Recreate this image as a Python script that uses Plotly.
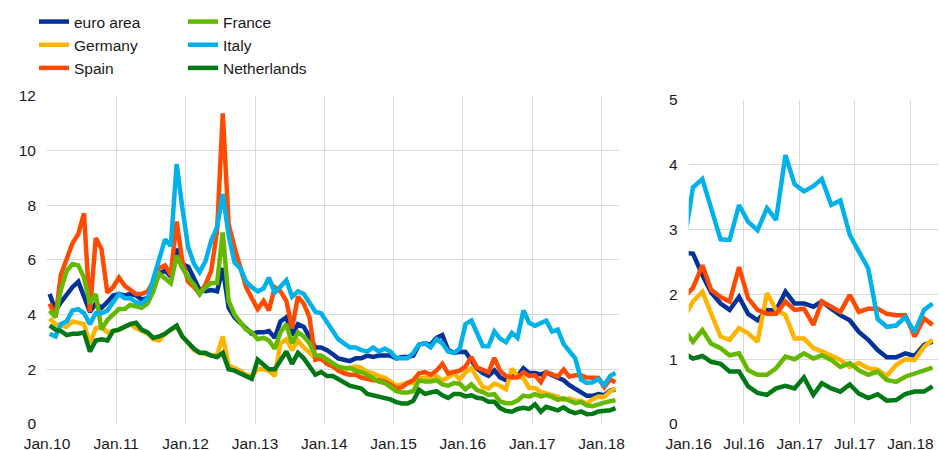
import pandas as pd
import plotly.graph_objects as go

# monthly observations, Jan 2010 - Mar 2018
months = pd.date_range('2010-01-01', '2018-03-01', freq='MS') + pd.Timedelta(days=14)

euro_area = [
    4.75, 4.15, 4.45, 4.75, 5.0, 5.2, 4.6, 4.1, 4.4, 4.25, 4.45, 4.7,
    4.75, 4.7, 4.75, 4.7, 4.55, 4.6, 5.0, 5.5, 5.6, 5.4, 6.4, 5.85,
    5.75, 5.35, 4.9, 4.85, 4.9, 4.85, 5.7, 4.25, 3.9, 3.7, 3.5, 3.3,
    3.35, 3.35, 3.4, 3.15, 3.75, 3.9, 3.25, 3.65, 3.55, 3.2, 2.8, 2.8,
    2.7, 2.55, 2.4, 2.35, 2.3, 2.4, 2.4, 2.5, 2.45, 2.5, 2.5, 2.5,
    2.4, 2.45, 2.45, 2.5, 2.9, 2.95, 2.9, 3.15, 3.25, 2.7, 2.6, 2.64,
    2.63, 2.3, 2.03, 1.86, 1.76, 1.96, 1.7, 1.6, 1.76, 1.75, 2.04, 1.86,
    1.86, 1.81, 1.89, 1.78, 1.68, 1.6, 1.42, 1.3, 1.14, 1.03, 1.03, 1.09,
    1.05, 1.22, 1.27,
]
germany = [
    3.85, 3.65, 3.6, 3.55, 3.75, 3.7, 3.65, 2.95, 3.5, 3.55, 3.35, 3.4,
    3.45, 3.55, 3.65, 3.5, 3.4, 3.3, 3.1, 3.05, 3.3, 3.45, 3.55, 3.2,
    2.95, 2.7, 2.6, 2.55, 2.5, 2.5, 3.2, 2.15, 2.05, 1.95, 1.8, 1.75,
    2.0, 2.0, 1.95, 1.75, 2.95, 3.1, 2.7, 3.05, 2.8, 2.6, 2.4, 2.4,
    2.2, 2.15, 2.05, 1.95, 2.05, 2.1, 2.05, 1.9, 1.85, 1.75, 1.7, 1.55,
    1.4, 1.45, 1.5, 1.5, 1.65, 1.7, 1.7, 1.75, 1.6, 1.7, 1.85, 1.63,
    1.89, 2.04, 1.7, 1.35, 1.3, 1.48, 1.4, 1.27, 2.02, 1.76, 1.68, 1.32,
    1.32, 1.17, 1.12, 1.06, 0.99, 0.88, 0.94, 0.86, 0.84, 0.74, 0.91, 1.0,
    0.99, 1.19, 1.3,
]
spain = [
    4.4, 3.9, 5.45, 6.1, 6.6, 6.95, 7.7, 4.1, 6.8, 6.4, 4.8, 5.0,
    5.35, 5.05, 4.9, 4.75, 4.75, 4.85, 5.2, 5.7, 5.8, 5.45, 7.4, 5.95,
    5.2, 5.0, 4.75, 5.1, 5.6, 7.05, 11.35, 7.3, 6.45, 5.7, 5.0, 4.6,
    4.2, 4.5, 4.15, 5.0, 4.85, 4.5, 3.5, 4.65, 4.4, 3.9, 2.35, 2.4,
    2.2, 2.1, 1.95, 1.85, 1.8, 1.8, 1.7, 1.65, 1.6, 1.6, 1.55, 1.45,
    1.3, 1.35, 1.5, 1.6, 1.85, 1.9, 1.8, 1.95, 2.2, 1.85, 1.9, 1.95,
    2.1, 2.45, 2.07, 1.96, 1.89, 2.42, 1.94, 1.76, 1.7, 1.7, 1.89, 1.76,
    1.78, 1.53, 1.89, 1.81, 1.73, 1.99, 1.73, 1.78, 1.78, 1.7, 1.68, 1.68,
    1.35, 1.63, 1.53,
]
france = [
    4.15, 3.9, 4.9, 5.6, 5.85, 5.8, 5.35, 4.4, 4.75, 3.45, 3.8, 4.0,
    4.2, 4.2, 4.35, 4.3, 4.25, 4.4, 4.85, 5.5, 5.3, 5.15, 6.15, 5.7,
    5.35, 5.1, 4.75, 5.0, 5.15, 5.15, 7.0, 4.5, 4.0, 3.75, 3.45, 3.35,
    3.1, 3.15, 3.05, 2.75, 3.35, 3.65, 2.95, 3.35, 3.2, 2.95, 2.5, 2.5,
    2.35, 2.2, 2.1, 2.05, 2.05, 1.95, 1.9, 1.8, 1.65, 1.55, 1.5, 1.35,
    1.2, 1.15, 1.15, 1.2, 1.6, 1.55, 1.55, 1.6, 1.45, 1.4, 1.5, 1.47,
    1.27, 1.45, 1.24, 1.17, 1.06, 1.09, 0.83, 0.76, 0.76, 0.86, 1.04, 1.0,
    1.09, 1.01, 1.06, 0.99, 0.88, 0.94, 0.83, 0.76, 0.81, 0.68, 0.65, 0.73,
    0.78, 0.83, 0.87,
]
italy = [
    3.3, 3.2, 3.65, 3.75, 4.15, 4.2, 4.05, 3.65, 4.05, 4.05, 4.15, 4.45,
    4.75, 4.6, 4.6, 4.45, 4.4, 4.6, 5.3, 6.1, 6.75, 6.5, 9.5, 7.9,
    6.45, 5.85, 5.55, 5.95, 6.7, 7.2, 8.4, 6.9, 5.9, 5.7, 5.2, 5.0,
    4.85, 4.95, 5.35, 4.8, 5.0, 5.25, 4.65, 4.85, 4.75, 4.45, 4.1, 4.05,
    3.7, 3.35, 3.1, 2.95, 2.8, 2.8, 2.7, 2.65, 2.8, 2.65, 2.75, 2.65,
    2.4, 2.4, 2.4, 2.6, 2.9, 2.95, 2.8, 3.1, 2.95, 2.65, 2.6, 2.75,
    3.65, 3.78, 3.35, 2.85, 2.84, 3.38, 3.12, 2.99, 3.33, 3.15, 4.15, 3.7,
    3.59, 3.67, 3.78, 3.38, 3.45, 2.92, 2.66, 2.4, 1.62, 1.5, 1.52, 1.65,
    1.42, 1.76, 1.86,
]
netherlands = [
    3.6, 3.45, 3.4, 3.25, 3.3, 3.3, 3.35, 2.65, 3.05, 3.1, 3.05, 3.4,
    3.45, 3.55, 3.65, 3.7, 3.45, 3.35, 3.15, 3.2, 3.3, 3.45, 3.6, 3.2,
    2.95, 2.75, 2.6, 2.6, 2.5, 2.45, 2.6, 2.0, 1.95, 1.85, 1.75, 1.65,
    2.35, 2.15, 2.0, 2.0, 2.35, 2.65, 2.2, 2.6, 2.4, 2.1, 1.8, 1.9,
    1.75, 1.75, 1.65, 1.55, 1.4, 1.35, 1.3, 1.1, 1.05, 1.0, 0.95, 0.9,
    0.8, 0.75, 0.75, 0.85, 1.25, 1.1, 1.15, 1.2, 1.05, 0.95, 1.1, 1.1,
    1.01, 1.05, 0.96, 0.93, 0.81, 0.81, 0.58, 0.48, 0.45, 0.55, 0.59, 0.55,
    0.72, 0.45, 0.63, 0.55, 0.5, 0.61, 0.47, 0.4, 0.46, 0.36, 0.37, 0.46,
    0.5, 0.5, 0.58,
]

# drawing order (first drawn at the bottom), colour, legend column
series = [
    ('euro area', euro_area, '#003299', 'legend'),
    ('Germany', germany, '#FFB400', 'legend'),
    ('Spain', spain, '#FF4B00', 'legend'),
    ('France', france, '#65B800', 'legend2'),
    ('Italy', italy, '#00B1EA', 'legend2'),
    ('Netherlands', netherlands, '#007816', 'legend2'),
]

left_ticks = pd.date_range('2010-01-01', '2018-01-01', freq='YS')
left_labels = ['Jan.' + d.strftime('%y') for d in left_ticks]
right_ticks = pd.date_range('2016-01-01', '2018-01-01', freq='6MS')
right_labels = [('Jan.' if d.month == 1 else 'Jul.') + d.strftime('%y') for d in right_ticks]

zoom_start = 71  # Dec 2015, so the line runs in from the left edge
LW = 4.5

fig = go.Figure()
for name, vals, col, leg in series:
    fig.add_trace(go.Scatter(
        x=months, y=vals, name=name, mode='lines',
        line=dict(color=col, width=LW), legend=leg,
        xaxis='x', yaxis='y'))
for name, vals, col, leg in series:
    fig.add_trace(go.Scatter(
        x=months[zoom_start:], y=vals[zoom_start:], name=name, mode='lines',
        line=dict(color=col, width=LW), showlegend=False,
        xaxis='x2', yaxis='y2'))

W, H = 939, 450
grid = '#d9d9d9'
FONT = 'Arial, Liberation Sans, sans-serif'
FS = 15.5
tickfont = dict(family=FONT, size=FS, color='#1a1a1a')
legend_style = dict(
    orientation='v', yanchor='top', xanchor='left', y=1 - 5 / H,
    font=dict(family=FONT, size=FS, color='#1a1a1a'),
    bgcolor='rgba(0,0,0,0)', itemwidth=30, tracegroupgap=0)

fig.update_layout(
    width=W, height=H,
    margin=dict(l=0, r=0, t=0, b=0),
    paper_bgcolor='white', plot_bgcolor='white',
    font=dict(family=FONT, size=FS, color='#1a1a1a'),
    showlegend=True,
    legend=dict(legend_style, x=34 / W),
    legend2=dict(legend_style, x=183 / W),
    xaxis=dict(
        domain=[47 / W, 618.7 / W], type='date',
        range=['2010-01-01', '2018-04-01'],
        tickvals=left_ticks, ticktext=left_labels, tickfont=tickfont,
        showgrid=True, gridcolor=grid, gridwidth=1, ticks='', ticklabelstandoff=8,
        showline=False, zeroline=False, anchor='y', automargin=False),
    yaxis=dict(
        domain=[26 / H, (H - 95.7) / H], range=[0, 12], dtick=2,
        tickfont=tickfont, showgrid=True, gridcolor=grid, gridwidth=1,
        ticks='', ticklabelstandoff=10, zeroline=False, showline=False,
        anchor='x', automargin=False),
    xaxis2=dict(
        domain=[688.7 / W, 937.7 / W], type='date',
        range=['2016-01-01', '2018-04-01'],
        tickvals=right_ticks, ticktext=right_labels, tickfont=tickfont,
        showgrid=True, gridcolor=grid, gridwidth=1, ticks='', ticklabelstandoff=8,
        showline=False, zeroline=False, anchor='y2', automargin=False),
    yaxis2=dict(
        domain=[26 / H, (H - 100) / H], range=[0, 5], dtick=1,
        tickfont=tickfont, showgrid=True, gridcolor=grid, gridwidth=1,
        ticks='', ticklabelstandoff=10, zeroline=False, showline=False,
        anchor='x2', automargin=False),
)

# the page's default body margin would shift the figure by 8px
fig.write_html('out.html', config={'displayModeBar': False},
               post_script="document.body.style.margin='0';")
